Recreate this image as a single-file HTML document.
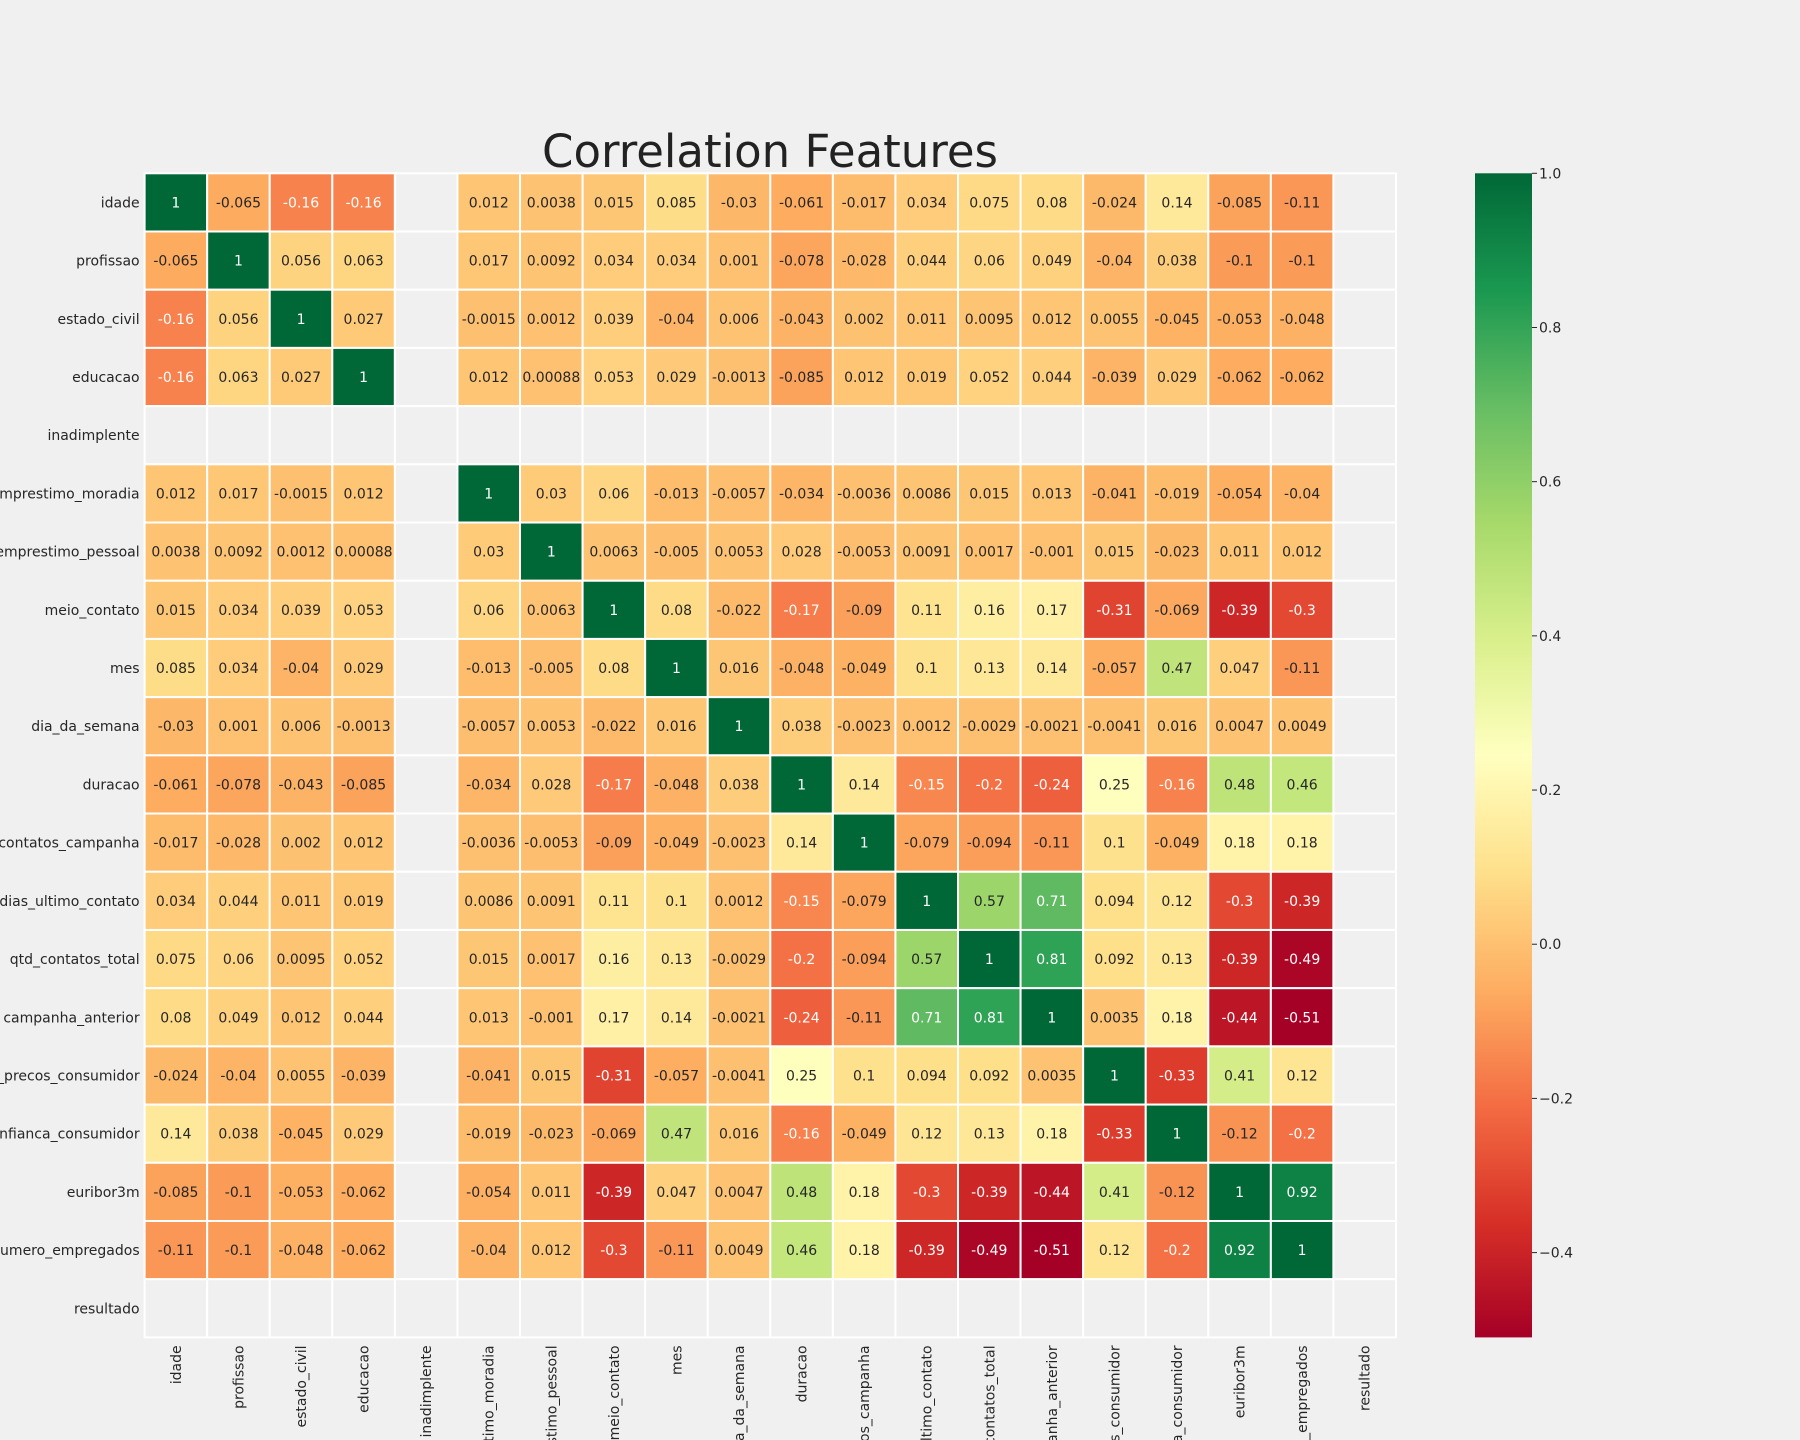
<!DOCTYPE html>
<html><head><meta charset="utf-8"><style>
html,body{margin:0;padding:0;background:#f0f0f0;width:1800px;height:1440px;overflow:hidden;}
svg{display:block;font-family:"DejaVu Sans","Liberation Sans",sans-serif;}
</style></head><body>
<svg id="chart" width="1800" height="1440" viewBox="0 0 1800 1440">
<rect width="1800" height="1440" fill="#f0f0f0"/>
<text x="770" y="167" font-size="45" text-anchor="middle" fill="#222">Correlation Features</text>
<g id="cells"></g>
<g id="ylabels"></g>
<g id="xlabels"></g>
<g id="cbar"></g>
</svg>
<script>
const labels = ["idade","profissao","estado_civil","educacao","inadimplente","emprestimo_moradia","emprestimo_pessoal","meio_contato","mes","dia_da_semana","duracao","qtd_contatos_campanha","dias_ultimo_contato","qtd_contatos_total","campanha_anterior","indice_precos_consumidor","indice_confianca_consumidor","euribor3m","numero_empregados","resultado"];
const validIdx = [0,1,2,3,5,6,7,8,9,10,11,12,13,14,15,16,17,18];
const rowIdade = [1,-0.065,-0.16,-0.16,0.012,0.0038,0.015,0.085,-0.03,-0.061,-0.017,0.034,0.075,0.08,-0.024,0.14,-0.085,-0.11];
const rowProfissao = [-0.065,1,0.056,0.063,0.017,0.0092,0.034,0.034,0.001,-0.078,-0.028,0.044,0.06,0.049,-0.04,0.038,-0.1,-0.1];
const rowEstadoCivil = [-0.16,0.056,1,0.027,-0.0015,0.0012,0.039,-0.04,0.006,-0.043,0.002,0.011,0.0095,0.012,0.0055,-0.045,-0.053,-0.048];
const rowEducacao = [-0.16,0.063,0.027,1,0.012,0.00088,0.053,0.029,-0.0013,-0.085,0.012,0.019,0.052,0.044,-0.039,0.029,-0.062,-0.062];
const rowEmpMoradia = [0.012,0.017,-0.0015,0.012,1,0.03,0.06,-0.013,-0.0057,-0.034,-0.0036,0.0086,0.015,0.013,-0.041,-0.019,-0.054,-0.04];
const rowEmpPessoal = [0.0038,0.0092,0.0012,0.00088,0.03,1,0.0063,-0.005,0.0053,0.028,-0.0053,0.0091,0.0017,-0.001,0.015,-0.023,0.011,0.012];
const rowMeioContato = [0.015,0.034,0.039,0.053,0.06,0.0063,1,0.08,-0.022,-0.17,-0.09,0.11,0.16,0.17,-0.31,-0.069,-0.39,-0.3];
const rowMes = [0.085,0.034,-0.04,0.029,-0.013,-0.005,0.08,1,0.016,-0.048,-0.049,0.1,0.13,0.14,-0.057,0.47,0.047,-0.11];
const rowDia = [-0.03,0.001,0.006,-0.0013,-0.0057,0.0053,-0.022,0.016,1,0.038,-0.0023,0.0012,-0.0029,-0.0021,-0.0041,0.016,0.0047,0.0049];
const rowDuracao = [-0.061,-0.078,-0.043,-0.085,-0.034,0.028,-0.17,-0.048,0.038,1,0.14,-0.15,-0.2,-0.24,0.25,-0.16,0.48,0.46];
const rowQtdCamp = [-0.017,-0.028,0.002,0.012,-0.0036,-0.0053,-0.09,-0.049,-0.0023,0.14,1,-0.079,-0.094,-0.11,0.1,-0.049,0.18,0.18];
const rowDiasUlt = [0.034,0.044,0.011,0.019,0.0086,0.0091,0.11,0.1,0.0012,-0.15,-0.079,1,0.57,0.71,0.094,0.12,-0.3,-0.39];
const rowQtdTotal = [0.075,0.06,0.0095,0.052,0.015,0.0017,0.16,0.13,-0.0029,-0.2,-0.094,0.57,1,0.81,0.092,0.13,-0.39,-0.49];
const rowCampAnt = [0.08,0.049,0.012,0.044,0.013,-0.001,0.17,0.14,-0.0021,-0.24,-0.11,0.71,0.81,1,0.0035,0.18,-0.44,-0.51];
const rowIpc = [-0.024,-0.04,0.0055,-0.039,-0.041,0.015,-0.31,-0.057,-0.0041,0.25,0.1,0.094,0.092,0.0035,1,-0.33,0.41,0.12];
const rowIcc = [0.14,0.038,-0.045,0.029,-0.019,-0.023,-0.069,0.47,0.016,-0.16,-0.049,0.12,0.13,0.18,-0.33,1,-0.12,-0.2];
const rowEuribor = [-0.085,-0.1,-0.053,-0.062,-0.054,0.011,-0.39,0.047,0.0047,0.48,0.18,-0.3,-0.39,-0.44,0.41,-0.12,1,0.92];
const rowNumEmp = [-0.11,-0.1,-0.048,-0.062,-0.04,0.012,-0.3,-0.11,0.0049,0.46,0.18,-0.39,-0.49,-0.51,0.12,-0.2,0.92,1];
const validRows = [rowIdade,rowProfissao,rowEstadoCivil,rowEducacao,rowEmpMoradia,rowEmpPessoal,rowMeioContato,rowMes,rowDia,rowDuracao,rowQtdCamp,rowDiasUlt,rowQtdTotal,rowCampAnt,rowIpc,rowIcc,rowEuribor,rowNumEmp];
const cbarTicks = [-0.4,-0.2,0,0.2,0.4,0.6,0.8,1.0];
const cbarTickLabels = ["\u22120.4","\u22120.2","0.0","0.2","0.4","0.6","0.8","1.0"];
const vmin = -0.51, vmax = 1.0;

const NS="http://www.w3.org/2000/svg";
const L=144.6,R=1396,T=173.3,B=1337.4;
const n=labels.length, cw=(R-L)/n, ch=(B-T)/n;
const xPos=i=>L+i*cw, yPos=i=>T+i*ch;
const stops=["#a50026","#d73027","#f46d43","#fdae61","#fee08b","#ffffbf","#d9ef8b","#a6d96a","#66bd63","#1a9850","#006837"].map(h=>[1,3,5].map(k=>parseInt(h.substr(k,2),16)));
function cmap(v){let t=(v-vmin)/(vmax-vmin);t=Math.max(0,Math.min(1,t));const p=t*10;const i=Math.min(9,Math.floor(p));const f=p-i;return stops[i].map((c,k)=>Math.round(c+(stops[i+1][k]-c)*f));}
function lum(c){const r=c.map(x=>{x/=255;return x<=0.03928?x/12.92:Math.pow((x+0.055)/1.055,2.4);});return 0.2126*r[0]+0.7152*r[1]+0.0722*r[2];}
function mk(tag,attrs,parent){const e=document.createElementNS(NS,tag);for(const k in attrs)e.setAttribute(k,attrs[k]);parent.appendChild(e);return e;}

const cells=document.getElementById('cells');
for(let r=0;r<n;r++){for(let c=0;c<n;c++){
  const ri=validIdx.indexOf(r), ci=validIdx.indexOf(c);
  const v=(ri<0||ci<0)?null:validRows[ri][ci];
  const fill=v===null?"#f0f0f0":"rgb("+cmap(v).join(",")+")";
  const rect=mk('rect',{x:xPos(c),y:yPos(r),width:cw,height:ch,fill:fill,stroke:"#ffffff","stroke-width":2},cells);
  
  
  if(v!==null){
    const col=cmap(v);
    const t=mk('text',{x:xPos(c)+cw/2,y:yPos(r)+ch/2+5,"font-size":14,"text-anchor":"middle",fill:lum(col)>0.408?"#262626":"#ffffff"},cells);
    t.textContent=String(v);
    
    
  }
}}
const yl=document.getElementById('ylabels'), xl=document.getElementById('xlabels');
for(let i=0;i<n;i++){
  const t=mk('text',{x:L-5,y:yPos(i)+ch/2+5,"font-size":14,"text-anchor":"end",fill:"#262626"},yl);
  t.textContent=labels[i];
  
  
  const cx=xPos(i)+cw/2+5, cy=B+8;
  const u=mk('text',{x:cx,y:cy,"font-size":14,"text-anchor":"end",fill:"#262626",transform:`rotate(-90 ${cx} ${cy})`},xl);
  u.textContent=labels[i];
  
  
}
const cb=document.getElementById('cbar');
const CX=1475,CW=57,CT=173.3,CB=1337.4;
const cy=v=>CB-(v-vmin)/(vmax-vmin)*(CB-CT);
const defs=mk('defs',{},cb);
const grad=mk('linearGradient',{id:'g',x1:0,y1:1,x2:0,y2:0},defs);
for(let k=0;k<=40;k++){const v=vmin+(vmax-vmin)*k/40;mk('stop',{offset:k/40,"stop-color":"rgb("+cmap(v).join(",")+")"},grad);}
const bar=mk('rect',{x:CX,y:CT,width:CW,height:CB-CT,fill:"url(#g)"},cb);


cbarTicks.forEach((v,i)=>{
  const y=cy(v);
  mk('line',{x1:CX+CW,x2:CX+CW+5,y1:y,y2:y,stroke:"#262626","stroke-width":1},cb);
  const t=mk('text',{x:CX+CW+7,y:y+5,"font-size":14,fill:"#262626"},cb);
  t.textContent=cbarTickLabels[i];
  
  
});
</script>
</body></html>
